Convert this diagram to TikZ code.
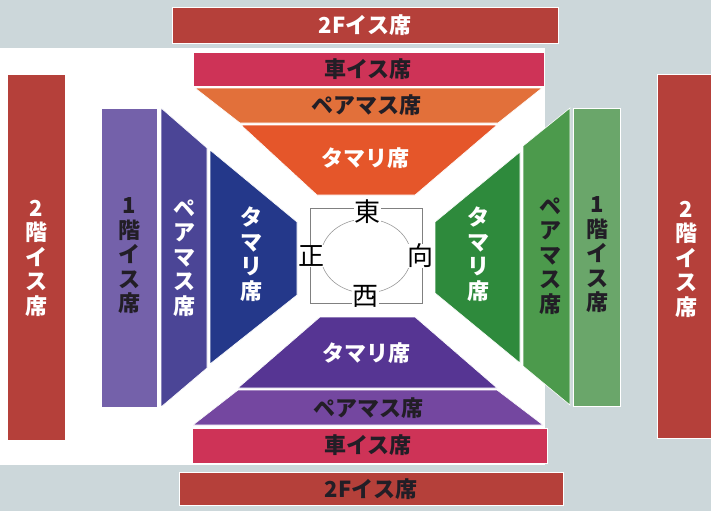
\documentclass[tikz,border=0pt]{standalone}
\usepackage{fontspec}
\setmainfont{Noto Sans CJK JP}
\definecolor{bg}{HTML}{CCD7DA}
\definecolor{brick}{HTML}{B5403A}
\definecolor{kuru}{HTML}{CE3357}
\definecolor{tpair}{HTML}{E2703A}
\definecolor{ttama}{HTML}{E5562A}
\definecolor{lone}{HTML}{7461AA}
\definecolor{lpair}{HTML}{4B4596}
\definecolor{ltama}{HTML}{24388A}
\definecolor{rtama}{HTML}{2E8A3C}
\definecolor{rpair}{HTML}{4C9A4C}
\definecolor{rone}{HTML}{6AA66A}
\definecolor{btama}{HTML}{563593}
\definecolor{bpair}{HTML}{7447A0}
\definecolor{darkink}{HTML}{221E26}
\tikzset{
  seat/.style={draw=white, line width=0.6pt},
  lab/.style={font=\bfseries\fontsize{22}{24.5}\selectfont, align=center, inner sep=0pt},
  wlab/.style={lab, text=white},
  dlab/.style={lab, text=darkink},
  dirlab/.style={font=\fontsize{26}{26}\selectfont, fill=white, inner sep=0.5pt, text=black},
}
\begin{document}
\begin{tikzpicture}[x=1pt,y=-1pt]
\useasboundingbox (0,0) rectangle (711,511);
\fill[bg] (0,0) rectangle (711,511);
\fill[white] (0,48) rectangle (545,465);
% top
\fill[brick,seat] (172,7) rectangle (558,43);
\fill[kuru,seat] (193,52) rectangle (544,86);
\fill[tpair,seat] (195,88) -- (542,88) -- (498,123) -- (240,123) -- cycle;
\fill[ttama,seat] (241,125) -- (497,125) -- (415,195) -- (317,195) -- cycle;
% left
\fill[brick,seat] (7,74) rectangle (65,440);
\fill[lone,seat] (101,108) rectangle (157,407);
\fill[lpair,seat] (161,108) -- (207,148) -- (207,368) -- (161,407) -- cycle;
\fill[ltama,seat] (210,150) -- (297,222) -- (297,295) -- (210,364) -- cycle;
% right
\fill[rtama,seat] (435,222) -- (520,152) -- (520,363) -- (435,293) -- cycle;
\fill[rpair,seat] (523,146) -- (570,108) -- (570,405) -- (523,366) -- cycle;
\fill[rone,seat] (573,108) rectangle (620,406);
\fill[brick,seat] (657,74) rectangle (720,438);
% bottom
\fill[btama,seat] (320,317) -- (415,317) -- (497,388) -- (238,388) -- cycle;
\fill[bpair,seat] (238,390) -- (497,390) -- (543,425) -- (193,425) -- cycle;
\fill[kuru,seat] (192,428) rectangle (547,463);
\fill[brick,seat] (179,472) rectangle (563,505);
% centre
\draw[gray, line width=0.6pt] (310,208) rectangle (422,303);
\draw[gray!80, line width=0.6pt] (366,256) ellipse [x radius=45, y radius=37];
\node[dirlab] (east) at (367,212) {東};
\node[dirlab] (west) at (365,296) {西};
\node[dirlab] (front) at (311,256) {正};
\node[dirlab] (back) at (420,256) {向};
% horizontal labels
\node[wlab] (t2f) at (365,25) {2Fイス席};
\node[dlab] (tkuru) at (368,69) {車イス席};
\node[dlab] (tpairl) at (366,105) {ペアマス席};
\node[wlab] (ttamal) at (365,158) {タマリ席};
\node[wlab] (btamal) at (366,353) {タマリ席};
\node[dlab] (bpairl) at (368,408) {ペアマス席};
\node[dlab] (bkuru) at (368,445) {車イス席};
\node[dlab] (b2f) at (371,489) {2Fイス席};
% vertical labels
\node[wlab] (l2) at (36,258) {2\\階\\イ\\ス\\席};
\node[dlab] (l1) at (129,256) {1\\階\\イ\\ス\\席};
\node[wlab] (lp) at (184,258) {ペ\\ア\\マ\\ス\\席};
\node[wlab] (lt) at (251,254) {タ\\マ\\リ\\席};
\node[wlab] (rt) at (478,254) {タ\\マ\\リ\\席};
\node[dlab] (rp) at (550,256) {ペ\\ア\\マ\\ス\\席};
\node[dlab] (r1) at (597,255) {1\\階\\イ\\ス\\席};
\node[wlab] (r2) at (686,259) {2\\階\\イ\\ス\\席};
\end{tikzpicture}
\end{document}
